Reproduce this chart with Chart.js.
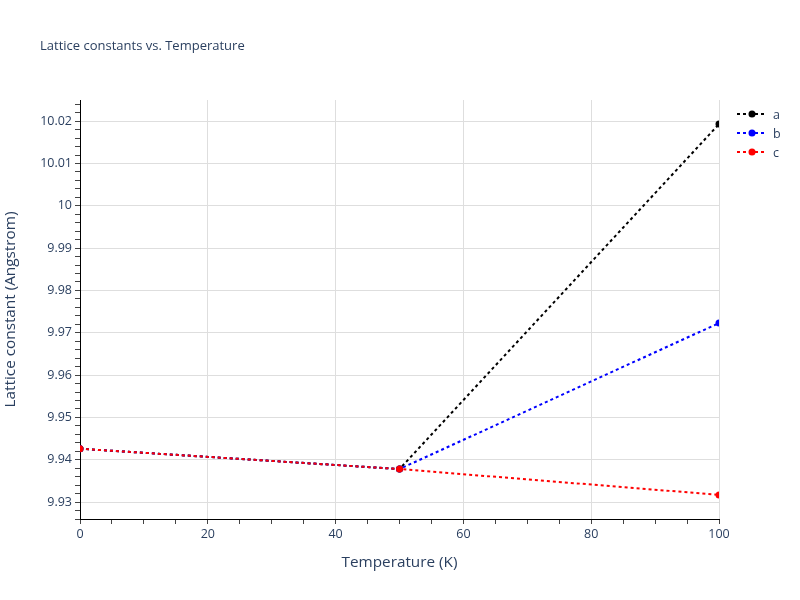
<!DOCTYPE html>
<html>
<head>
<meta charset="utf-8">
<script src="https://cdn.jsdelivr.net/npm/chart.js@4.4.1/dist/chart.umd.min.js"></script>
<style>
  html, body { margin: 0; padding: 0; background: #fff; }
  #wrap { width: 800px; height: 600px; position: relative; }
</style>
</head>
<body>
<div id="wrap"><canvas id="mainChart"></canvas></div>
<script>
// --- data ---
const temps = [0, 50, 100];
const latticeA = [9.9426, 9.9378, 10.0193];
const latticeB = [9.9426, 9.9378, 9.9723];
const latticeC = [9.9426, 9.9378, 9.9317];
const seriesNames = ['a', 'b', 'c'];
const seriesColors = ['#000000', '#0000ff', '#ff0000'];

const FONT = '"Open Sans", "DejaVu Sans", sans-serif';
const TEXT = '#2a3f5f';

function pts(ys) {
    return temps.map((t, i) => ({ x: t, y: ys[i] }));
}

function isMultiple(v, step) {
    const r = v / step;
    return Math.abs(r - Math.round(r)) < 1e-6;
}

// title + legend drawn by hand, plotly style
const extras = {
    id: 'extras',
    afterDraw(chart) {
        const c = chart.ctx;
        c.save();
        c.fillStyle = TEXT;
        c.font = '13px ' + FONT;
        c.textBaseline = 'middle';
        c.fillText('Lattice constants vs. Temperature', 40, 46);

        seriesNames.forEach((name, i) => {
            const y = 114 + i * 19;
            c.strokeStyle = seriesColors[i];
            c.lineWidth = 2;
            c.setLineDash([3, 3]);
            c.beginPath();
            c.moveTo(737, y);
            c.lineTo(767, y);
            c.stroke();
            c.setLineDash([]);
            c.fillStyle = seriesColors[i];
            c.beginPath();
            c.arc(752, y, 3.5, 0, Math.PI * 2);
            c.fill();
            c.fillStyle = TEXT;
            c.font = '12.5px ' + FONT;
            c.fillText(name, 773, y + 1);
        });
        c.restore();
    }
};

const ds = [latticeA, latticeB, latticeC].map((ys, i) => ({
    label: seriesNames[i],
    data: pts(ys),
    borderColor: seriesColors[i],
    backgroundColor: seriesColors[i],
    borderWidth: 2,
    borderDash: [3, 3],
    pointRadius: 3.5,
    pointBorderWidth: 0,
    order: 3 - i,
    tension: 0
}));

const ctx = document.getElementById('mainChart').getContext('2d');
const mainChart = new Chart(ctx, {
    type: 'line',
    data: { datasets: ds },
    options: {
        responsive: true,
        maintainAspectRatio: false,
        animation: false,
        layout: { padding: { top: 100, right: 81, left: 0, bottom: 0 } },
        plugins: {
            legend: { display: false },
            title: { display: false },
            tooltip: { enabled: false }
        },
        scales: {
            x: {
                type: 'linear',
                min: 0,
                max: 100,
                afterFit(s) { s.height = 81; },
                ticks: {
                    stepSize: 5,
                    autoSkip: false,
                    maxRotation: 0,
                    color: TEXT,
                    font: { family: FONT, size: 12.5 },
                    padding: 3,
                    callback: v => isMultiple(v, 20) ? String(v) : ''
                },
                grid: {
                    color: c => (c.tick && isMultiple(c.tick.value, 20) && c.tick.value !== 0) ? '#dedede' : 'rgba(0,0,0,0)',
                    tickColor: '#444',
                    tickLength: 5,
                    lineWidth: 1
                },
                border: { color: '#000', width: 1 },
                title: {
                    display: true,
                    text: 'Temperature (K)',
                    color: TEXT,
                    font: { family: FONT, size: 15.3 },
                    padding: { top: 10, bottom: 28 }
                }
            },
            y: {
                type: 'linear',
                min: 9.926,
                max: 10.025,
                afterFit(s) { s.width = 80; },
                afterBuildTicks(s) {
                    const t = [];
                    for (let k = 4963; k <= 5012; k++) t.push({ value: k * 0.002 });
                    s.ticks = t;
                },
                ticks: {
                    autoSkip: false,
                    color: TEXT,
                    font: { family: FONT, size: 12.5 },
                    padding: 3,
                    callback: v => isMultiple(v, 0.01) ? String(parseFloat(v.toFixed(2))) : ''
                },
                grid: {
                    color: c => (c.tick && isMultiple(c.tick.value, 0.01)) ? '#dedede' : 'rgba(0,0,0,0)',
                    tickColor: '#444',
                    tickLength: 5,
                    lineWidth: 1
                },
                border: { color: '#000', width: 1 },
                title: {
                    display: true,
                    text: 'Lattice constant (Angstrom)',
                    color: TEXT,
                    font: { family: FONT, size: 15.3 },
                    padding: { top: 1, bottom: 0 }
                }
            }
        }
    },
    plugins: [extras]
});
</script>
</body>
</html>
